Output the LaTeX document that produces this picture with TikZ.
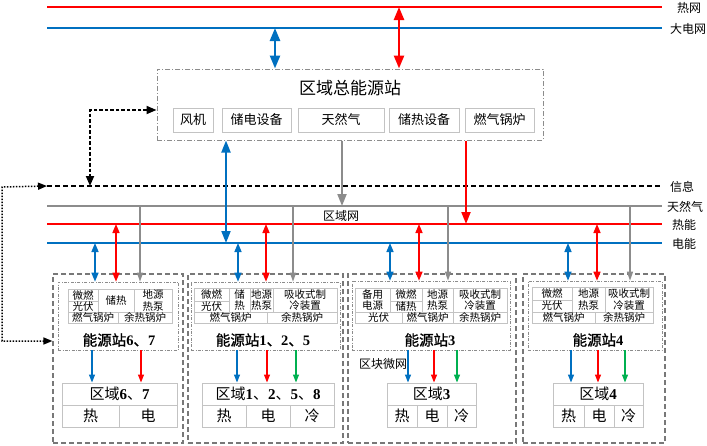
\documentclass[tikz,border=0pt]{standalone}
\usepackage{fontspec}
\setmainfont{Liberation Serif}
\newfontfamily\cjk{Noto Sans CJK SC}
\newfontfamily\cjkb[FakeBold=1.2]{Noto Sans CJK SC}
\usetikzlibrary{arrows.meta}
\definecolor{cred}{RGB}{255,0,0}
\definecolor{cblue}{RGB}{0,112,192}
\definecolor{cgray}{RGB}{140,140,140}
\definecolor{cgreen}{RGB}{0,176,80}
\definecolor{cellgray}{RGB}{195,195,195}
\definecolor{boxgray}{RGB}{120,120,120}
\newcommand\dg[1]{{\rmfamily\bfseries #1}}
\newcommand\cellnode[6]{\node[cellst, minimum width={#4-#2}, minimum height={#5-#3}] (#1) at ({(#2+#4)/2},{(#3+#5)/2}) {#6};}
\newcommand\rcell[6]{\node[rcellst, minimum width={#4-#2}, minimum height={#5-#3}] (#1) at ({(#2+#4)/2},{(#3+#5)/2}) {#6};}
\tikzset{
  bus/.style={line width=2.2pt},
  rlab/.style={font=\cjk\fontsize{12}{12}\selectfont, inner sep=0pt, anchor=west},
  cellst/.style={draw=cellgray, line width=0.8pt, inner sep=0pt, align=center, font=\cjk\fontsize{10.5}{11.5}\selectfont},
  rcellst/.style={draw=cellgray, line width=0.9pt, inner sep=0pt, font=\cjk\fontsize{15}{15}\selectfont},
  subbox/.style={draw=cellgray, line width=0.9pt, inner sep=0pt, font=\cjk\fontsize{13}{13}\selectfont},
  stbox/.style={draw=boxgray, dash pattern=on 5pt off 3pt, line width=1.2pt, inner sep=0pt},
  inbox/.style={draw=cgray, dash pattern=on 3pt off 1.5pt on 0.8pt off 1.5pt, line width=0.7pt, inner sep=0pt},
  mainbox/.style={draw=cgray, dash pattern=on 5pt off 2pt on 1pt off 2pt, line width=1pt, inner sep=0pt},
  bigdbl/.style={line width=2.5pt, arrows={Triangle[length=13pt,width=10pt]-Triangle[length=13pt,width=10pt]}},
  meddbl/.style={line width=2pt, arrows={Triangle[length=12pt,width=9pt]-Triangle[length=12pt,width=9pt]}},
  medone/.style={line width=2pt, arrows={-Triangle[length=12pt,width=9pt]}},
  smdbl/.style={line width=1.5pt, arrows={Triangle[length=9pt,width=7pt]-Triangle[length=9pt,width=7pt]}},
  smone/.style={line width=1.3pt, arrows={-Triangle[length=9pt,width=6pt]}},
  dnone/.style={line width=1.2pt, arrows={-Triangle[length=8pt,width=6pt]}},
  stlab/.style={font=\cjkb\fontsize{14.5}{14.5}\selectfont, inner sep=0pt},
}
\begin{document}
\begin{tikzpicture}[x=1pt,y=-1pt]
\useasboundingbox (0,0) rectangle (707,445);
% ---------- top grids ----------
\coordinate (hwL) at (47,7);   \coordinate (hwR) at (662,7);
\coordinate (dwL) at (47,28);  \coordinate (dwR) at (662,28);
\draw[bus, cred] (hwL) -- (hwR);
\draw[bus, cblue] (dwL) -- (dwR);
\node[rlab] (lhw) at (677,8) {热网};
\node[rlab] (ldw) at (670,29) {大电网};
% ---------- main station ----------
\node[mainbox, minimum width=386, minimum height=71] (main) at (350,104.5) {};
\node[font=\cjk\fontsize{17}{17}\selectfont, inner sep=0pt] (mtitle) at (350,88) {区域总能源站};
\node[subbox, minimum width=40, minimum height=24] (fj) at (193,120) {风机};
\node[subbox, minimum width=69, minimum height=24] (cd) at (256.5,120) {储电设备};
\node[subbox, minimum width=86, minimum height=24] (trq) at (341,120) {天然气};
\node[subbox, minimum width=70, minimum height=24] (cr) at (424,120) {储热设备};
\node[subbox, minimum width=69, minimum height=24] (rq) at (499.5,120) {燃气锅炉};
\coordinate (xa) at (275,0); \coordinate (xb) at (399,0);
\draw[bigdbl, cblue] (xa |- dwL) -- (xa |- main.north);
\draw[bigdbl, cred] (xb |- hwL) -- (xb |- main.north);
% ---------- regional buses ----------
\coordinate (xxL) at (47,186); \coordinate (xxR) at (662,186);
\coordinate (gsL) at (47,206); \coordinate (gsR) at (662,206);
\coordinate (rnL) at (47,224); \coordinate (rnR) at (662,224);
\coordinate (dnL) at (47,243); \coordinate (dnR) at (662,243);
\draw[line width=1.5pt, dash pattern=on 5pt off 3pt] (xxL) -- (xxR);
\draw[bus, cgray] (gsL) -- (gsR);
\draw[bus, cred] (rnL) -- (rnR);
\draw[bus, cblue] (dnL) -- (dnR);
\node[rlab] (lxx) at (670,187) {信息};
\node[rlab] (lgs) at (667,207) {天然气};
\node[rlab] (lrn) at (672,225) {热能};
\node[rlab] (ldn) at (672,244) {电能};
\node[font=\cjk\fontsize{12}{12}\selectfont, inner sep=0pt] (qyw) at (341,216) {区域网};
% main to regional buses
\coordinate (xc) at (226,0); \coordinate (xd) at (342,0); \coordinate (xe) at (466,0);
\draw[meddbl, cblue] (xc |- main.south) -- (xc |- dnL);
\draw[medone, cgray] (xd |- main.south) -- (xd |- gsL);
\draw[medone, cred] (xe |- main.south) -- (xe |- rnL);
% info connectors
\coordinate (ia) at (90,186);
\draw[line width=1.8pt, dash pattern=on 3.5pt off 2pt, arrows={Triangle[length=10pt,width=8pt]-Triangle[length=10pt,width=8pt]}] ([yshift=-5.5pt]main.west) -| (ia);
% ---------- stations ----------
\node[stbox, minimum width=130, minimum height=169] (s1) at (118,358.5) {};
\node[stbox, minimum width=155, minimum height=169] (s2) at (265.5,358.5) {};
\node[stbox, minimum width=168, minimum height=169] (s3) at (432,358.5) {};
\node[stbox, minimum width=142, minimum height=169] (s4) at (594,358.5) {};
\node[inbox, minimum width=120, minimum height=68] (in1) at (118,316) {};
\node[inbox, minimum width=149, minimum height=68] (in2) at (265.5,316) {};
\node[inbox, minimum width=158, minimum height=69] (in3) at (431,315.5) {};
\node[inbox, minimum width=134, minimum height=69] (in4) at (595,315.5) {};
\coordinate (lc1) at (2,187); \coordinate (lc2) at (2,341);
\draw[line width=1.5pt, dash pattern=on 1.5pt off 1.5pt, arrows={Triangle[length=9pt,width=7pt]-Triangle[length=9pt,width=7pt]}] (xxL) -- (lc1) -- (lc2) -- (s1.west |- lc2);
% station 1 cells
\cellnode{a1}{68}{289}{98}{301}{微燃}
\cellnode{a2}{68}{301}{98}{312}{光伏}
\cellnode{a3}{98}{289}{134}{312}{储热}
\cellnode{a4}{134}{289}{172}{312}{地源\\热泵}
\cellnode{a5}{68}{312}{118}{323}{燃气锅炉}
\cellnode{a6}{118}{312}{172}{323}{余热锅炉}
% station 2 cells
\cellnode{b1}{194}{288}{229}{301}{微燃}
\cellnode{b2}{194}{301}{229}{312}{光伏}
\cellnode{b3}{229}{288}{250}{312}{储\\热}
\cellnode{b4}{250}{288}{273}{312}{地源\\热泵}
\cellnode{b5}{273}{288}{337}{312}{吸收式制\\冷装置}
\cellnode{b6}{194}{312}{267}{323}{燃气锅炉}
\cellnode{b7}{267}{312}{337}{323}{余热锅炉}
% station 3 cells
\cellnode{c1}{355}{288}{390}{312}{备用\\电源}
\cellnode{c2}{390}{288}{422}{301}{微燃}
\cellnode{c3}{390}{301}{422}{312}{储热}
\cellnode{c4}{422}{288}{453}{312}{地源\\热泵}
\cellnode{c5}{453}{288}{507}{312}{吸收式制\\冷装置}
\cellnode{c6}{355}{312}{402}{323}{光伏}
\cellnode{c7}{402}{312}{453}{323}{燃气锅炉}
\cellnode{c8}{453}{312}{507}{323}{余热锅炉}
% station 4 cells
\cellnode{d1}{532}{287}{572}{300}{微燃}
\cellnode{d2}{532}{300}{572}{312}{光伏}
\cellnode{d3}{572}{287}{605}{312}{地源\\热泵}
\cellnode{d4}{605}{287}{653}{312}{吸收式制\\冷装置}
\cellnode{d5}{532}{312}{595}{323}{燃气锅炉}
\cellnode{d6}{595}{312}{653}{323}{余热锅炉}
% station labels
\node[stlab] (l1) at (119,340) {能源站\dg{6}、\dg{7}};
\node[stlab] (l2) at (263,340) {能源站\dg{1}、\dg{2}、\dg{5}};
\node[stlab] (l3) at (430,340) {能源站\dg{3}};
\node[stlab] (l4) at (598,340) {能源站\dg{4}};
\node[font=\cjk\fontsize{12}{12}\selectfont, inner sep=0pt] (qkwl) at (383,364) {区块微网};
% regions
\rcell{r1}{62}{383}{177}{405}{区域\dg{6}、\dg{7}}
\rcell{r1a}{62}{405}{119}{427}{热}
\rcell{r1b}{119}{405}{177}{427}{电}
\rcell{r2}{202}{383}{334}{405}{区域\dg{1}、\dg{2}、\dg{5}、\dg{8}}
\rcell{r2a}{202}{405}{246}{427}{热}
\rcell{r2b}{246}{405}{290}{427}{电}
\rcell{r2c}{290}{405}{334}{427}{冷}
\rcell{r3}{387}{383}{476}{405}{区域\dg{3}}
\rcell{r3a}{387}{405}{417}{427}{热}
\rcell{r3b}{417}{405}{447}{427}{电}
\rcell{r3c}{447}{405}{476}{427}{冷}
\rcell{r4}{553}{383}{643}{405}{区域\dg{4}}
\rcell{r4a}{553}{405}{584}{427}{热}
\rcell{r4b}{584}{405}{614}{427}{电}
\rcell{r4c}{614}{405}{643}{427}{冷}
% bus -> station arrows
\foreach \n/\xb/\xr/\xg in {1/95/116/140, 2/238/266/293, 3/390/419/448, 4/568/597/630}{
  \coordinate (pb\n) at (\xb,243);
  \coordinate (pr\n) at (\xr,224);
  \coordinate (pg\n) at (\xg,206);
  \draw[smdbl, cblue] (pb\n) -- (pb\n |- in\n.north);
  \draw[smdbl, cred] (pr\n) -- (pr\n |- in\n.north);
  \draw[smone, cgray] (pg\n) -- (pg\n |- in\n.north);
}
% station -> region arrows
\foreach \n/\x/\c in {1/92/cblue, 1/141/cred, 2/237/cblue, 2/267/cred, 2/296/cgreen, 3/408/cblue, 3/434/cred, 3/457/cgreen, 4/571/cblue, 4/598/cred, 4/625/cgreen}{
  \coordinate (q) at (\x,0);
  \draw[dnone, \c] (q |- in\n.south) -- (q |- r\n.north);
}
\end{tikzpicture}
\end{document}
